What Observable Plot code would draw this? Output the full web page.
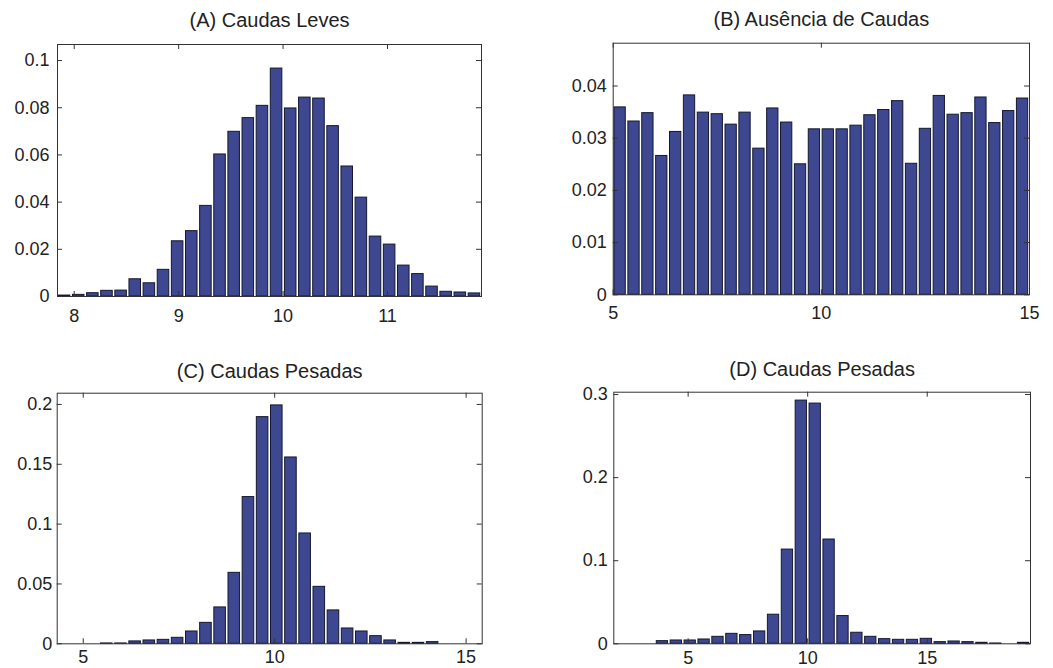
<!DOCTYPE html>
<html>
<head>
<meta charset="utf-8">
<script src="https://cdn.jsdelivr.net/npm/d3@7"></script>
<script src="https://cdn.jsdelivr.net/npm/@observablehq/plot@0.6"></script>
<style>
  html, body { margin: 0; padding: 0; background: #fff; }
  #grid { position: relative; width: 1053px; height: 668px; overflow: hidden; }
  #grid > svg { position: absolute; }
  #grid g[aria-label$="tick label"] text { font-size: 18px; }
</style>
</head>
<body>
<div id="grid"></div>
<script>
// Relative frequencies of 30 equal-width bins for each sample
const titles = ["(A) Caudas Leves", "(B) Ausência de Caudas", "(C) Caudas Pesadas", "(D) Caudas Pesadas"];

// Bin range (data min .. max) of each histogram
const rangeA = [7.84, 11.90];
const rangeB = [5, 15];
const rangeC = [4.32, 15.42];
const rangeD = [1.89, 19.32];

const freqA = [0.0004, 0.0007, 0.0014, 0.0024, 0.0025, 0.0073, 0.0056, 0.0113, 0.0234, 0.0277,
               0.0384, 0.0602, 0.0698, 0.0756, 0.0808, 0.0966, 0.0797, 0.0843, 0.0839, 0.0722,
               0.0551, 0.0419, 0.0254, 0.0220, 0.0131, 0.0095, 0.0042, 0.0020, 0.0017, 0.0013];
const freqB = [0.0359, 0.0332, 0.0348, 0.0266, 0.0312, 0.0382, 0.0349, 0.0346, 0.0326, 0.0349,
               0.0280, 0.0357, 0.0330, 0.0250, 0.0317, 0.0317, 0.0317, 0.0324, 0.0344, 0.0354,
               0.0371, 0.0251, 0.0318, 0.0381, 0.0345, 0.0348, 0.0378, 0.0329, 0.0352, 0.0376];
const freqC = [0, 0, 0, 0.0003, 0.0003, 0.0020, 0.0028, 0.0033, 0.0050, 0.0103,
               0.0175, 0.0304, 0.0593, 0.1226, 0.1894, 0.1992, 0.1557, 0.0922, 0.0476, 0.0279,
               0.0128, 0.0103, 0.0064, 0.0028, 0.0008, 0.0008, 0.0014, 0, 0, 0];
const freqD = [0, 0, 0, 0.0032, 0.0040, 0.0040, 0.0052, 0.0084, 0.0120, 0.0105,
               0.0149, 0.0350, 0.1134, 0.2927, 0.2891, 0.1255, 0.0334, 0.0133, 0.0084, 0.0056,
               0.0048, 0.0048, 0.0060, 0.0020, 0.0028, 0.0020, 0.0012, 0.0004, 0, 0.0012];

// Axis limits and tick values
const yMaxA = 0.1068, yMaxB = 0.0482, yMaxC = 0.2094, yMaxD = 0.3028;
const xTicksA = [8, 9, 10, 11];
const xTicksB = [5, 10, 15];
const xTicksC = [5, 10, 15];
const xTicksD = [5, 10, 15];
const yTicksA = [0, 0.02, 0.04, 0.06, 0.08, 0.1];
const yTicksB = [0, 0.01, 0.02, 0.03, 0.04];
const yTicksC = [0, 0.05, 0.1, 0.15, 0.2];
const yTicksD = [0, 0.1, 0.2, 0.3];

const BAR_FILL = "#3d4890";
const BAR_EDGE = "#15182e";
const INK = "#222";
const FONT = "'Liberation Sans', Arial, Helvetica, sans-serif";

function panel(cfg) {
  const {title, range, freq, yMax, xTicks, yTicks, box, padX, padY, titleDy} = cfg;
  const [x0, x1] = range;
  const n = freq.length;
  const w = (x1 - x0) / n;
  const bins = freq.map((v, i) => ({lo: x0 + i * w, hi: x0 + (i + 1) * w, v}));
  const innerW = box.width - box.ml - box.mr;
  const innerH = box.height - box.mt - box.mb;
  const tick = 5;
  const ty = yMax * tick / innerH;        // inward tick length in y units
  const tx = (x1 - x0) * tick / innerW;   // inward tick length in x units
  const fmt = d => String(+d.toFixed(4));

  const svg = Plot.plot({
    width: box.width,
    height: box.height,
    marginLeft: box.ml, marginRight: box.mr, marginTop: box.mt, marginBottom: box.mb,
    x: {domain: [x0, x1]},
    y: {domain: [0, yMax]},
    style: {fontFamily: FONT, fontSize: "18px", color: INK, background: "transparent", overflow: "visible"},
    marks: [
      Plot.rect(bins, {
        x1: "lo", x2: "hi", y1: 0, y2: "v",
        fill: BAR_FILL, stroke: BAR_EDGE, strokeWidth: 1,
        insetLeft: 1.3, insetRight: 1.3
      }),
      // inward ticks on all four sides
      Plot.ruleX(xTicks, {x: d => d, y1: 0, y2: ty, stroke: "#333"}),
      Plot.ruleX(xTicks, {x: d => d, y1: yMax, y2: yMax - ty, stroke: "#333"}),
      Plot.ruleY(yTicks, {y: d => d, x1: x0, x2: x0 + tx, stroke: "#333"}),
      Plot.ruleY(yTicks, {y: d => d, x1: x1, x2: x1 - tx, stroke: "#333"}),
      Plot.frame({stroke: "#333", strokeWidth: 1}),
      Plot.axisX(xTicks, {tickSize: 0, tickPadding: padX, tickFormat: fmt, label: null, fill: INK, fontSize: 18}),
      Plot.axisY(yTicks, {tickSize: 0, tickPadding: padY, tickFormat: fmt, label: null, fill: INK, fontSize: 18}),
      Plot.text([title], {
        text: d => d, frameAnchor: "top", dy: -titleDy,
        lineAnchor: "middle", fontSize: 20, fill: INK
      })
    ]
  });
  svg.style.left = box.left + "px";
  svg.style.top = box.top + "px";
  document.getElementById("grid").appendChild(svg);
}

panel({title: titles[0], range: rangeA, freq: freqA, yMax: yMaxA, xTicks: xTicksA, yTicks: yTicksA,
       box: {left: 0, top: 0, width: 520, height: 330, ml: 57, mr: 39, mt: 44, mb: 34},
       padX: 13, padY: 8, titleDy: 24});
panel({title: titles[1], range: rangeB, freq: freqB, yMax: yMaxB, xTicks: xTicksB, yTicks: yTicksB,
       box: {left: 520, top: 0, width: 533, height: 330, ml: 92.7, mr: 24, mt: 42.7, mb: 35.7},
       padX: 11, padY: 6.5, titleDy: 24});
panel({title: titles[2], range: rangeC, freq: freqC, yMax: yMaxC, xTicks: xTicksC, yTicks: yTicksC,
       box: {left: 0, top: 330, width: 520, height: 338, ml: 56.7, mr: 38.3, mt: 62.7, mb: 24.7},
       padX: 6, padY: 5, titleDy: 22});
panel({title: titles[3], range: rangeD, freq: freqD, yMax: yMaxD, xTicks: xTicksD, yTicks: yTicksD,
       box: {left: 520, top: 330, width: 533, height: 338, ml: 93.3, mr: 23, mt: 61.7, mb: 24.7},
       padX: 7, padY: 6, titleDy: 22.7});
</script>
</body>
</html>
